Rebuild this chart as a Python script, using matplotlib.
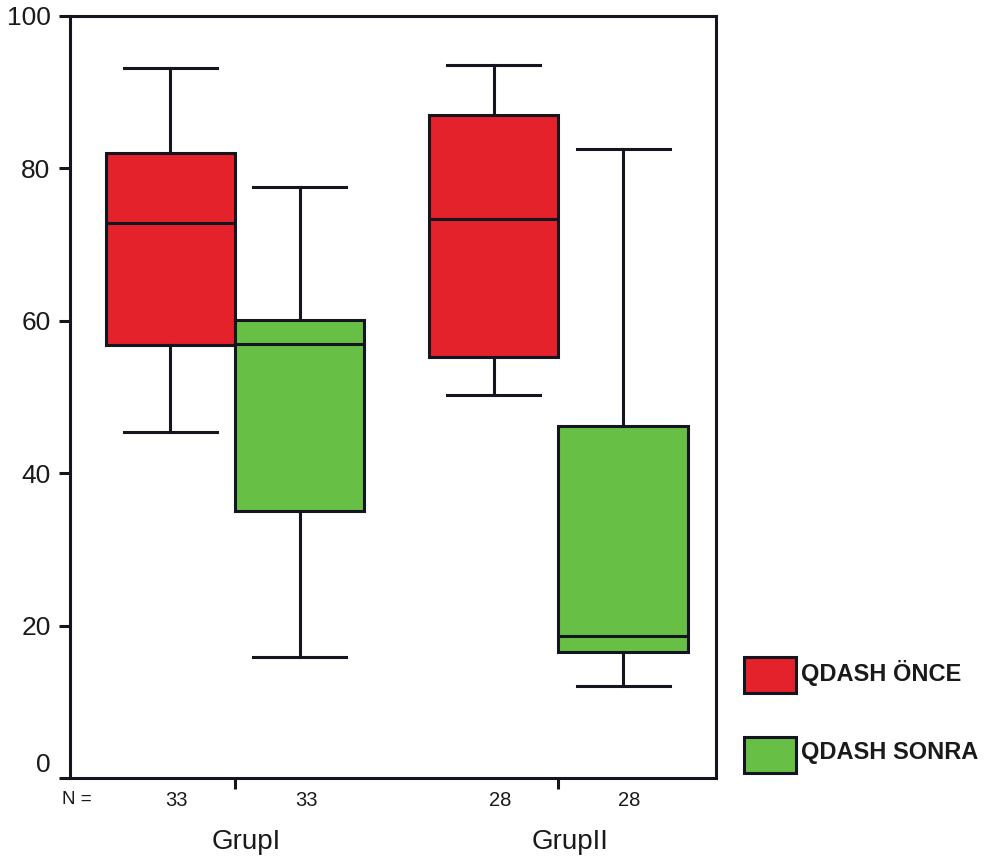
import matplotlib
matplotlib.use("Agg")
import matplotlib.pyplot as plt
from matplotlib.patches import Rectangle
from matplotlib.transforms import ScaledTranslation, blended_transform_factory

plt.rcParams['font.family'] = ['Liberation Sans', 'DejaVu Sans']

# Box-plot summaries (QDASH scores) per group
groups = ["GrupI", "GrupII"]
series = ["QDASH ÖNCE", "QDASH SONRA"]
n_counts = [[33, 33], [28, 28]]
whislo = [[45.4, 15.9], [50.3, 12.1]]
q1 = [[56.8, 35.0], [55.3, 16.6]]
med = [[72.9, 57.0], [73.4, 18.7]]
q3 = [[82.0, 60.1], [87.0, 46.2]]
whishi = [[93.2, 77.6], [93.6, 82.6]]
yticks = [0, 20, 40, 60, 80, 100]

colors = ["#E3222B", "#68BF46"]
edge = "#15151F"
lw = 2.2

W, H = 987, 868
fig = plt.figure(figsize=(W / 100, H / 100), dpi=100)
ax = fig.add_axes([70 / W, 1 - 778 / H, (716 - 70) / W, (778 - 16) / H])

offset = 0.2
width = 0.4
for gi, g in enumerate(groups):
    for si in range(len(series)):
        pos = gi + 1 + (-offset if si == 0 else offset)
        stats = [dict(med=med[gi][si], q1=q1[gi][si], q3=q3[gi][si],
                      whislo=whislo[gi][si], whishi=whishi[gi][si], fliers=[])]
        ax.bxp(stats, positions=[pos], widths=width, patch_artist=True,
               showfliers=False, capwidths=width * 0.72,
               boxprops=dict(facecolor=colors[si], edgecolor=edge, linewidth=lw),
               medianprops=dict(color=edge, linewidth=lw),
               whiskerprops=dict(color=edge, linewidth=lw),
               capprops=dict(color=edge, linewidth=lw))

ax.set_xlim(0.49, 2.487)
ax.set_ylim(0, 100)
ax.set_yticks(yticks)
ax.set_yticklabels([str(v) for v in yticks])
ax.set_xticks([1, 2])
ax.set_xticklabels([])
ax.tick_params(axis='y', direction='out', length=8, width=lw, labelsize=19,
               pad=6, colors=edge, labelcolor='#1a1a1a')
ax.tick_params(axis='x', direction='out', length=8, width=lw, colors=edge)
for s in ax.spines.values():
    s.set_linewidth(lw)
    s.set_color(edge)

# lift the "0" label above the N row
lab0 = ax.get_yticklabels()[0]
lab0.set_transform(lab0.get_transform() + ScaledTranslation(0, 0.15, fig.dpi_scale_trans))

# sample sizes and group names under the axis
tr = blended_transform_factory(ax.transData, fig.transFigure)
fig.text(77 / W, 1 - 800 / H, "N =", ha='center', va='center', fontsize=13.5, color='#1a1a1a')
for gi in range(len(groups)):
    for si in range(len(series)):
        pos = gi + 1 + (-offset if si == 0 else offset)
        ax.text(pos + 0.02, 1 - 800 / H, str(n_counts[gi][si]), transform=tr,
                ha='center', va='center', fontsize=14.5, color='#1a1a1a')
    ax.text(gi + 1 + 0.035, 1 - 842 / H, groups[gi], transform=tr,
            ha='center', va='center', fontsize=20, color='#1a1a1a')

# legend drawn as boxes with labels to the right of the plot
leg_y = [675, 755]
for si, name in enumerate(series):
    yc = leg_y[si]
    fig.patches.append(Rectangle((744 / W, 1 - (yc + 18) / H), 52 / W, 36 / H,
                                 transform=fig.transFigure, facecolor=colors[si],
                                 edgecolor=edge, linewidth=lw))
    fig.text(801 / W, 1 - (yc - 2) / H, name, ha='left', va='center',
             fontsize=17, fontweight='bold', color='#1a1a1a')

fig.savefig("out.png", dpi=100)
